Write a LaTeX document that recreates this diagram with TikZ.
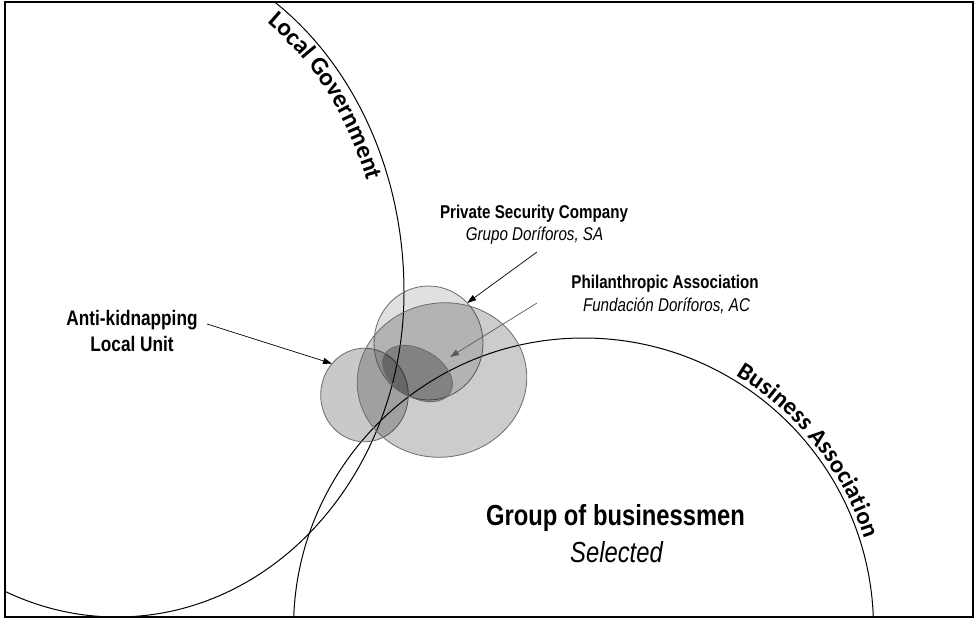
\documentclass[tikz,border=0pt]{standalone}
\usepackage{fontspec}
\setmainfont{Liberation Sans}
\newfontfamily\narrow[FakeStretch=0.82]{Liberation Sans}
\newfontfamily\calib{Carlito}
\usetikzlibrary{shapes.geometric,arrows.meta,decorations.text}
\begin{document}
\begin{tikzpicture}[x=1pt,y=-1pt]
\tikzset{
  bigline/.style={black, line width=1pt},
  blob/.style={draw=black!58, line width=0.8pt, fill=black},
  arr/.style={black, line width=0.7pt, -{Triangle[length=9pt,width=6pt]}},
  grayarr/.style={black!65, line width=0.7pt, -{Triangle[length=9pt,width=6pt]}},
  lbl/.style={font=\narrow\fontsize{18.5}{22}\selectfont, inner sep=0pt, anchor=base},
  lblbig/.style={font=\narrow\fontsize{21}{25}\selectfont, inner sep=0pt, anchor=base},
  lblhuge/.style={font=\narrow\fontsize{29}{34}\selectfont, inner sep=0pt, anchor=base},
}
\useasboundingbox (0,0) rectangle (974,619);
\fill[white] (0,0) rectangle (974,619);

% big sets
\begin{scope}
\clip (4.5,2) rectangle (972.5,616.5);
\draw[bigline] (117,-55) .. controls (275.5,-55) and (404,100.4) .. (404,292)
  .. controls (404,471.5) and (275.5,617) .. (117,617)
  .. controls (-41.5,617) and (-170,471.5) .. (-170,292);
\draw[bigline] (583.5,628) circle[radius=290pt];
\end{scope}

% curved labels (Local Government on a parallel inner baseline)
\path[decorate, decoration={text along path,
   text={|\calib\bfseries\fontsize{25}{25}\selectfont|Local Government},
   raise=0pt, text align={left indent=164pt}}]
  (117,-34) .. controls (263.9,-34) and (383,112) .. (383,292);
\path[decorate, decoration={text along path,
   text={|\calib\bfseries\fontsize{24.5}{24.5}\selectfont|Business Association},
   raise=5pt, text align={left indent=0pt}}]
  ([shift={(-59:290)}]583.5,628) arc[start angle=-59, end angle=0, radius=290];

% overlapping actors
\node[blob, fill opacity=0.21, ellipse, minimum width=87.6pt, minimum height=93.6pt,
      inner sep=0pt, outer sep=0pt] (aluC) at (364.5,395) {};
\node[blob, fill opacity=0.12, ellipse, minimum width=109pt, minimum height=114pt,
      inner sep=0pt, outer sep=0pt] (pscC) at (428.5,343) {};
\draw[blob, fill opacity=0.2, rotate around={10:(442,380)}]
  (442,380) ellipse[x radius=85pt, y radius=77pt];
\draw[blob, fill opacity=0.27, rotate around={-30:(417.5,373.5)}]
  (417.5,373.5) ellipse[x radius=38pt, y radius=24pt];

% labels
\node[lbl] (psc) at (534,218) {\bfseries Private Security Company};
\node[lbl] (pscsub) at (534.5,240) {\itshape Grupo Doríforos, SA};
\node[lbl] (phil) at (665,288) {\bfseries Philanthropic Association};
\node[lbl] (philsub) at (666.5,311) {\itshape Fundación Doríforos, AC};
\node[lblbig] (alu) at (132,325) {\bfseries Anti-kidnapping};
\node[lblbig] (alusub) at (132,351.7) {\bfseries Local Unit};
\node[lblhuge] (grp) at (615.5,525) {\bfseries Group of businessmen};
\node[lblhuge] (grpsub) at (616.5,562) {\itshape Selected};

% arrows
\coordinate (aluA) at (207,324);
\coordinate (pscA) at (537,252);
\coordinate (philA) at (537,303);
\coordinate (philT) at (450,357);
\draw[arr] (aluA) -- (aluC.136);
\draw[arr] (pscA) -- (pscC.46);
\draw[grayarr] (philA) -- (philT);

% frame
\draw[line width=2pt] (4.5,2) rectangle (972.5,616.5);
\end{tikzpicture}
\end{document}
